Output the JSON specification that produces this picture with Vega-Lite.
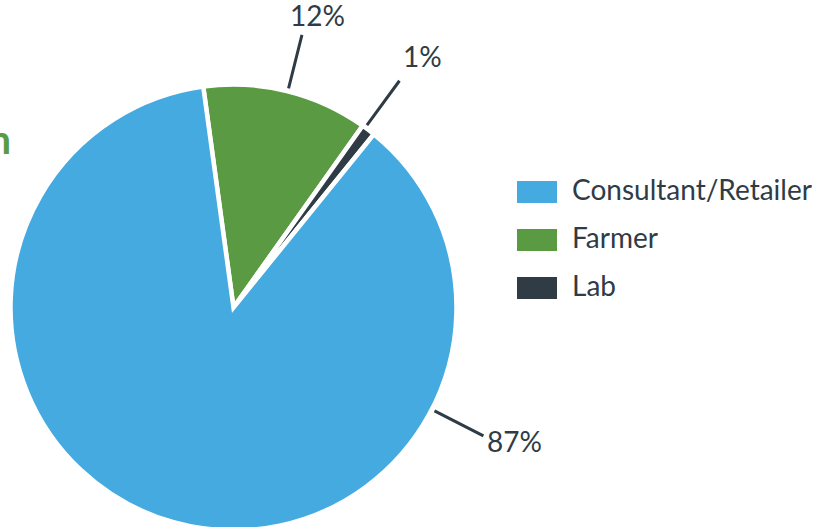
{
  "$schema": "https://vega.github.io/schema/vega-lite/v6.json",
  "autosize": "none",
  "width": 467,
  "height": 615,
  "padding": {"left": 0, "top": 0, "right": 357, "bottom": 0},
  "background": "white",
  "config": {"view": {"stroke": null}, "font": "Lato"},
  "layer": [
    {
      "data": {"values": [
        {"role": "Farmer", "pct": 12, "ord": 1},
        {"role": "Lab", "pct": 1, "ord": 2},
        {"role": "Consultant/Retailer", "pct": 87, "ord": 3}
      ]},
      "mark": {"type": "arc", "outerRadius": 223, "stroke": "white", "strokeWidth": 4.5},
      "encoding": {
        "theta": {"field": "pct", "type": "quantitative", "stack": true, "scale": {"range": [-0.136, 6.147]}},
        "order": {"field": "ord", "type": "quantitative"},
        "color": {
          "field": "role", "type": "nominal",
          "scale": {"domain": ["Consultant/Retailer", "Farmer", "Lab"], "range": ["#44aae0", "#5a9a43", "#2f3c46"]},
          "legend": {
            "title": null, "orient": "none", "legendX": 517, "legendY": 172,
            "symbolType": "M-1,-0.55H1V0.55H-1Z", "symbolSize": 1600, "symbolStrokeWidth": 0,
            "symbolOpacity": 1, "labelFontSize": 28, "labelColor": "#2f3c46", "labelFont": "Lato",
            "labelLimit": 0, "rowPadding": 14, "labelOffset": 15, "padding": 0
          }
        }
      }
    },
    {
      "data": {"values": [
        {"label": "12%", "lineAngle": 14.1, "textAngle": 16.2},
        {"label": "1%", "lineAngle": 36.2, "textAngle": 37.2},
        {"label": "87%", "lineAngle": 117.2, "textAngle": 116.0}
      ]},
      "layer": [
        {
          "mark": {"type": "arc", "stroke": "#2f3c46", "strokeWidth": 3, "fill": "transparent"},
          "encoding": {
            "theta": {"field": "lineAngle", "type": "quantitative", "stack": null, "scale": {"domain": [0, 360], "range": [0, 6.28319]}},
            "theta2": {"field": "lineAngle"},
            "radius": {"value": 281},
            "radius2": {"value": 226}
          }
        },
        {
          "transform": [{"filter": "datum.label === '12%'"}],
          "mark": {"type": "text", "fontSize": 28, "color": "#2f3c46", "align": "center", "baseline": "middle", "font": "Lato"},
          "encoding": {
            "theta": {"field": "textAngle", "type": "quantitative", "stack": null, "scale": {"domain": [0, 360], "range": [0, 6.28319]}},
            "radius": {"value": 301},
            "text": {"field": "label", "type": "nominal"}
          }
        },
        {
          "transform": [{"filter": "datum.label !== '12%'"}],
          "mark": {"type": "text", "fontSize": 28, "color": "#2f3c46", "align": "center", "baseline": "middle", "font": "Lato"},
          "encoding": {
            "theta": {"field": "textAngle", "type": "quantitative", "stack": null, "scale": {"domain": [0, 360], "range": [0, 6.28319]}},
            "radius": {"value": 312.5},
            "text": {"field": "label", "type": "nominal"}
          }
        }
      ]
    },
    {
      "data": {"values": [{"title": "n", "angle": 306.6}]},
      "mark": {"type": "text", "fontSize": 40, "fontWeight": "bold", "color": "#5a9a43", "align": "right", "baseline": "middle", "font": "Lato"},
      "encoding": {
        "theta": {"field": "angle", "type": "quantitative", "stack": null, "scale": {"domain": [0, 360], "range": [0, 6.28319]}},
        "radius": {"value": 277},
        "text": {"field": "title", "type": "nominal"}
      }
    }
  ],
  "resolve": {"scale": {"theta": "independent"}}
}
